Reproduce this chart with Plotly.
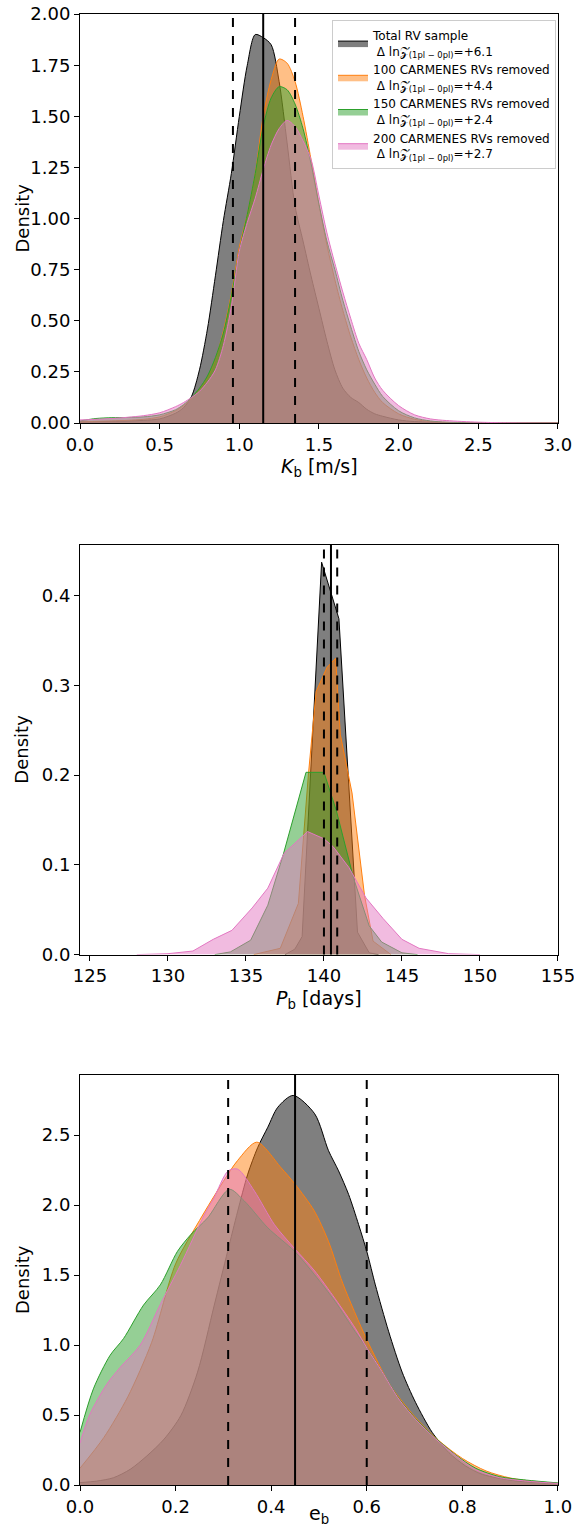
import plotly.graph_objects as go

# ---------------- Panel 1: K_b ----------------
K_x = [0.0, 0.1, 0.2, 0.3, 0.4, 0.5, 0.6, 0.65, 0.7, 0.75, 0.8, 0.85, 0.9, 0.95, 1.0, 1.05, 1.1, 1.15, 1.2, 1.25,
       1.3, 1.35, 1.4, 1.45, 1.5, 1.55, 1.6, 1.65, 1.7, 1.75, 1.8, 1.85, 1.9, 2.0, 2.1, 2.2, 2.3, 2.5, 2.7, 3.0]
K_total = [0.005, 0.007, 0.008, 0.01, 0.013, 0.02, 0.048, 0.075, 0.13, 0.26, 0.46, 0.72, 0.99, 1.22, 1.50, 1.75, 1.90, 1.885, 1.85, 1.67,
           1.37, 1.06, 0.89, 0.72, 0.56, 0.40, 0.26, 0.17, 0.125, 0.10, 0.067, 0.045, 0.033, 0.015, 0.007, 0.004, 0.002, 0.001, 0.0, 0.0]
K_100 = [0.005, 0.008, 0.01, 0.013, 0.018, 0.03, 0.06, 0.085, 0.12, 0.165, 0.22, 0.31, 0.45, 0.63, 0.86, 1.02, 1.22, 1.50, 1.68, 1.78,
         1.76, 1.67, 1.50, 1.29, 1.07, 0.87, 0.70, 0.55, 0.42, 0.31, 0.22, 0.15, 0.10, 0.045, 0.018, 0.007, 0.003, 0.001, 0.0, 0.0]
K_150 = [0.01, 0.022, 0.026, 0.027, 0.03, 0.04, 0.065, 0.09, 0.125, 0.17, 0.23, 0.32, 0.44, 0.62, 0.84, 1.02, 1.22, 1.45, 1.59, 1.645,
         1.63, 1.56, 1.44, 1.27, 1.07, 0.89, 0.75, 0.60, 0.47, 0.35, 0.26, 0.19, 0.13, 0.06, 0.025, 0.01, 0.004, 0.001, 0.0, 0.0]
K_200 = [0.015, 0.018, 0.022, 0.028, 0.036, 0.05, 0.08, 0.10, 0.125, 0.155, 0.20, 0.26, 0.38, 0.57, 0.84, 0.98, 1.10, 1.24, 1.36, 1.44,
         1.48, 1.45, 1.38, 1.29, 1.11, 0.93, 0.78, 0.64, 0.51, 0.39, 0.31, 0.22, 0.16, 0.085, 0.04, 0.02, 0.012, 0.004, 0.001, 0.0]
K_lines = [0.96, 1.15, 1.35]

# ---------------- Panel 2: P_b ----------------
P_total_x = [137.5, 138.13, 138.6, 139.85, 140.96, 142.15, 142.9, 143.5]
P_total_y = [0.0, 0.006, 0.02, 0.437, 0.374, 0.025, 0.002, 0.0]
P_100_x = [135.5, 137.2, 138.36, 139.0, 139.5, 140.2, 140.75, 141.05, 141.8, 142.6, 143.15, 144.3]
P_100_y = [0.0, 0.007, 0.057, 0.2, 0.293, 0.32, 0.33, 0.245, 0.18, 0.066, 0.015, 0.0]
P_150_x = [133.0, 134.0, 135.3, 136.4, 137.4, 138.85, 140.0, 140.8, 141.9, 142.9, 143.7, 145.0, 146.0]
P_150_y = [0.0, 0.003, 0.016, 0.055, 0.112, 0.203, 0.203, 0.16, 0.085, 0.032, 0.014, 0.002, 0.0]
P_200_x = [128.0, 130.0, 131.6, 132.9, 134.1, 135.4, 136.4, 137.45, 138.95, 140.0, 140.6, 141.6, 142.7, 143.8, 145.0, 146.1, 148.0, 150.0]
P_200_y = [0.0, 0.001, 0.004, 0.017, 0.027, 0.052, 0.074, 0.113, 0.137, 0.129, 0.12, 0.097, 0.063, 0.04, 0.017, 0.007, 0.001, 0.0]
P_lines = [140.0, 140.45, 140.85]

# ---------------- Panel 3: e_b ----------------
E_total_x = [0, 0.035, 0.07, 0.105, 0.14, 0.176, 0.211, 0.246, 0.281, 0.309, 0.33, 0.351, 0.372, 0.393, 0.414, 0.446, 0.491,
             0.52, 0.541, 0.562, 0.583, 0.601, 0.618, 0.646, 0.674, 0.702, 0.737, 0.772, 0.807, 0.842, 0.913, 1.0]
E_total_y = [0.017, 0.028, 0.052, 0.112, 0.208, 0.328, 0.496, 0.807, 1.286, 1.67, 1.957, 2.221, 2.413, 2.557, 2.70, 2.784, 2.653,
             2.389, 2.245, 2.077, 1.861, 1.658, 1.43, 1.095, 0.807, 0.591, 0.376, 0.231, 0.136, 0.076, 0.029, 0.011]
E_100_x = [0, 0.05, 0.1, 0.15, 0.2, 0.25, 0.3, 0.33, 0.37, 0.42, 0.45, 0.49, 0.52, 0.55, 0.6, 0.65, 0.7, 0.75, 0.8, 0.85, 0.9, 0.95, 1.0]
E_100_y = [0.12, 0.34, 0.63, 1.02, 1.58, 1.89, 2.17, 2.32, 2.45, 2.27, 2.15, 1.96, 1.74, 1.44, 1.04, 0.71, 0.49, 0.32, 0.19, 0.10, 0.05, 0.025, 0.012]
E_150_x = [0, 0.028, 0.063, 0.091, 0.133, 0.168, 0.204, 0.232, 0.267, 0.3125, 0.344, 0.393, 0.449, 0.491, 0.534, 0.576, 0.601,
           0.632, 0.667, 0.702, 0.744, 0.786, 0.828, 0.878, 0.934, 1.0]
E_150_y = [0.376, 0.687, 0.927, 1.046, 1.286, 1.43, 1.67, 1.79, 1.909, 2.113, 2.029, 1.838, 1.67, 1.502, 1.311, 1.095, 0.975,
           0.81, 0.62, 0.475, 0.335, 0.215, 0.12, 0.06, 0.035, 0.015]
E_200_x = [0, 0.02, 0.056, 0.084, 0.126, 0.168, 0.21, 0.26, 0.28, 0.31, 0.33, 0.365, 0.407, 0.449, 0.491, 0.534, 0.576, 0.601,
           0.632, 0.667, 0.702, 0.744, 0.786, 0.828, 0.878, 0.934, 1.0]
E_200_y = [0.30, 0.50, 0.72, 0.84, 1.0, 1.29, 1.57, 1.93, 2.05, 2.245, 2.257, 2.10, 1.86, 1.69, 1.53, 1.33, 1.12, 0.975,
           0.81, 0.615, 0.47, 0.33, 0.21, 0.11, 0.052, 0.028, 0.011]
E_lines = [0.31, 0.45, 0.60]

labels = [
    "Total RV sample<br> Δ ln𝒵<sub>(1pl − 0pl)</sub>=+6.1",
    "100 CARMENES RVs removed<br> Δ ln𝒵<sub>(1pl − 0pl)</sub>=+4.4",
    "150 CARMENES RVs removed<br> Δ ln𝒵<sub>(1pl − 0pl)</sub>=+2.4",
    "200 CARMENES RVs removed<br> Δ ln𝒵<sub>(1pl − 0pl)</sub>=+2.7",
]
x_titles = ["<i>K</i><sub>b</sub> [m/s]", "<i>P</i><sub>b</sub> [days]", "e<sub>b</sub>"]
x_title_pos = [(-30, "top"), (-30, "top"), (-44, "bottom")]
y_title = "Density"
line_colors = ["#000000", "#ff7f0e", "#2ca02c", "#e377c2"]
fill_colors = ["rgba(0,0,0,0.5)", "rgba(255,127,14,0.5)", "rgba(44,160,44,0.5)", "rgba(227,119,194,0.5)"]

panels = [
    ([(K_x, K_total), (K_x, K_100), (K_x, K_150), (K_x, K_200)], "spline", K_lines),
    ([(P_total_x, P_total_y), (P_100_x, P_100_y), (P_150_x, P_150_y), (P_200_x, P_200_y)], "linear", P_lines),
    ([(E_total_x, E_total_y), (E_100_x, E_100_y), (E_150_x, E_150_y), (E_200_x, E_200_y)], "spline", E_lines),
]

fig = go.Figure()
for p, (series, shape, vlines) in enumerate(panels):
    xa = "x" if p == 0 else f"x{p+1}"
    ya = "y" if p == 0 else f"y{p+1}"
    for i, (xs, ys) in enumerate(series):
        fig.add_trace(go.Scatter(
            x=xs, y=ys, mode="lines", fill="tozeroy",
            line=dict(color=line_colors[i], width=1, shape=shape, smoothing=0.8),
            fillcolor=fill_colors[i], name=labels[i], showlegend=(p == 0),
            xaxis=xa, yaxis=ya, hoverinfo="skip"))
    for j, v in enumerate(vlines):
        fig.add_shape(type="line", x0=v, x1=v, y0=0, y1=1, xref=xa, yref=f"{ya} domain",
                      line=dict(color="black", width=2, dash="solid" if j == 1 else "dash"))
    ysh, yanc = x_title_pos[p]
    fig.add_annotation(text=x_titles[p], xref=f"{xa} domain", yref=f"{ya} domain", x=0.5, y=0,
                       yshift=ysh, showarrow=False, xanchor="center", yanchor=yanc,
                       font=dict(size=19, color="black", family="DejaVu Sans"))
    fig.add_annotation(text=y_title, xref=f"{xa} domain", yref=f"{ya} domain", x=0, y=0.5,
                       xshift=-58, showarrow=False, xanchor="center", yanchor="middle", textangle=-90,
                       font=dict(size=18, color="black", family="DejaVu Sans"))

axis_common = dict(showline=True, mirror=True, linecolor="black", linewidth=1, ticks="outside",
                   ticklen=5, tickcolor="black", showgrid=False, zeroline=False, automargin=False,
                   ticklabeloverflow="allow", tickfont=dict(size=18, color="black"))

FIG_W, FIG_H = 574, 1530
PLOT_L, PLOT_R = 80, 558
PLOT_T, PLOT_B = 14, 1485
HH = PLOT_B - PLOT_T

def dom(top_px, bot_px):
    return [(PLOT_B - bot_px) / HH, (PLOT_B - top_px) / HH]

def lx(px):
    return (px - PLOT_L) / (PLOT_R - PLOT_L)

fig.update_layout(
    width=FIG_W, height=FIG_H,
    margin=dict(l=PLOT_L, r=FIG_W - PLOT_R, t=PLOT_T, b=FIG_H - PLOT_B, autoexpand=False),
    paper_bgcolor="white", plot_bgcolor="white",
    font=dict(family="DejaVu Sans", size=16, color="black"),
    xaxis=dict(axis_common, domain=[0, 1], range=[0, 3.0005], tickvals=[0, 0.5, 1, 1.5, 2, 2.5, 3],
               ticktext=["0.0", "0.5", "1.0", "1.5", "2.0", "2.5", "3.0"], anchor="y"),
    yaxis=dict(axis_common, domain=dom(14, 423), range=[0, 2.0005], tickvals=[0, 0.25, 0.5, 0.75, 1, 1.25, 1.5, 1.75, 2.0],
               ticktext=["0.00", "0.25", "0.50", "0.75", "1.00", "1.25", "1.50", "1.75", "2.00"], anchor="x"),
    xaxis2=dict(axis_common, domain=[0, 1], range=[124.36, 155.005], tickvals=[125, 130, 135, 140, 145, 150, 155],
                ticktext=["125", "130", "135", "140", "145", "150", "155"], anchor="y2"),
    yaxis2=dict(axis_common, domain=dom(544.7, 954.6), range=[0, 0.4565], tickvals=[0, 0.1, 0.2, 0.3, 0.4],
                ticktext=["0.0", "0.1", "0.2", "0.3", "0.4"], anchor="x2"),
    xaxis3=dict(axis_common, domain=[0, 1], range=[0, 1.0002], tickvals=[0, 0.2, 0.4, 0.6, 0.8, 1.0],
                ticktext=["0.0", "0.2", "0.4", "0.6", "0.8", "1.0"], anchor="y3"),
    yaxis3=dict(axis_common, domain=dom(1075, 1485), range=[0, 2.93], tickvals=[0, 0.5, 1, 1.5, 2, 2.5],
                ticktext=["0.0", "0.5", "1.0", "1.5", "2.0", "2.5"], anchor="x3"),
    legend=dict(x=lx(332), y=dom(20, 20)[0], xanchor="left", yanchor="top", bgcolor="rgba(255,255,255,0.8)",
                bordercolor="#cccccc", borderwidth=1, font=dict(size=12, family="DejaVu Sans", color="black"),
                tracegroupgap=0, itemwidth=30),
    showlegend=True,
)

fig.write_html("out.html", config={"displayModeBar": False},
               post_script="document.body.style.margin='0';document.body.style.overflow='hidden';")
